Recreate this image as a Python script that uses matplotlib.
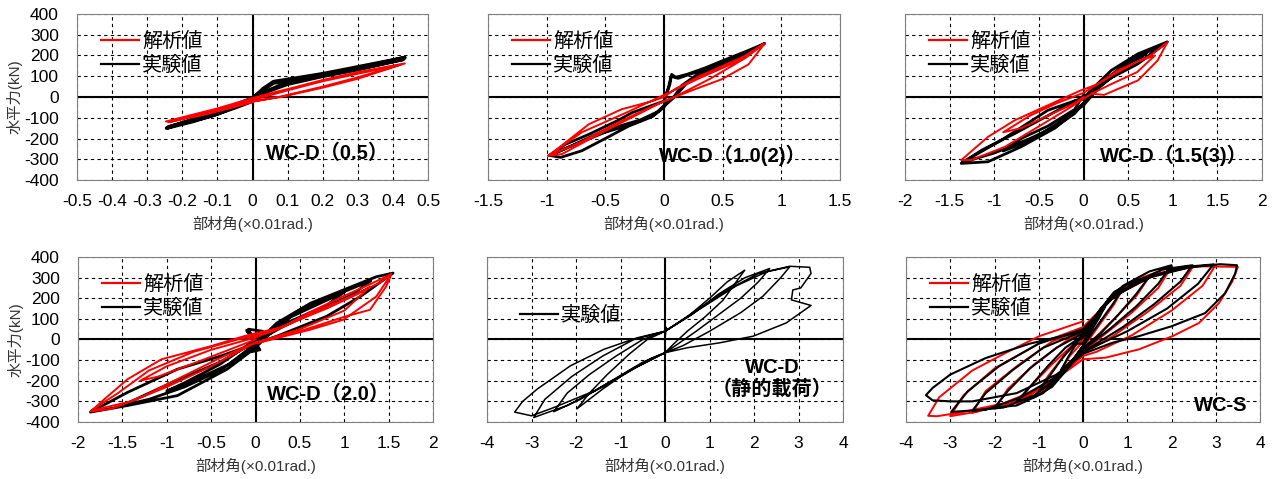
import numpy as np
import matplotlib.pyplot as plt
from matplotlib.ticker import FuncFormatter

plt.rcParams['font.family'] = ['Liberation Sans', 'Noto Sans CJK JP', 'DejaVu Sans']
plt.rcParams['axes.unicode_minus'] = False

# Hysteresis paths: story drift (x0.01 rad) vs. horizontal force (kN)

# WC-D (0.5)
d05_ana_x = [0, 0.08, 0.2, 0.3, 0.434, 0.3, 0.2, 0.1, 0.06, 0, -0.1, -0.247, -0.15, -0.05, 0,
             0.08, 0.2, 0.3, 0.42, 0.3, 0.2, 0.1, 0, -0.1, -0.24, -0.12, 0]
d05_ana_y = [-22, 0, 45, 88, 162, 120, 82, 38, 22, -5, -55, -118, -88, -45, -22,
             2, 50, 95, 155, 112, 76, 32, -15, -62, -122, -78, -25]
d05_exp_x = [0, 0.03, 0.06, 0.12, 0.2, 0.3, 0.434, 0.3, 0.2, 0.1, 0.05, 0, -0.05, -0.1, -0.17,
             -0.245, -0.17, -0.1, -0.05, 0, 0.03, 0.06, 0.12, 0.2, 0.3, 0.43, 0.3, 0.2, 0.1,
             0.04, 0, -0.05, -0.12, -0.24, -0.15, -0.08, -0.02]
d05_exp_y = [-10, 40, 74, 90, 112, 145, 190, 138, 108, 72, 35, -15, -48, -82, -118,
             -150, -108, -70, -38, -5, 35, 68, 82, 104, 136, 182, 132, 100, 62,
             25, -20, -52, -92, -145, -100, -62, -25]

# WC-D (1.0(2))
d10_ana_x = [0.09, 0.3, 0.49, 0.72, 0.858, 0.7, 0.5, 0.3, 0.1, 0, -0.1, -0.36, -0.64, -0.983,
             -0.87, -0.5, -0.22, 0, 0.09, 0.4, 0.7, 0.85, 0.6, 0.3, 0, -0.3, -0.7, -0.98,
             -0.7, -0.4, -0.1, 0.09]
d10_ana_y = [0, 45, 85, 157, 258, 200, 150, 100, 40, 0, -20, -59, -131, -283,
             -275, -163, -83, -20, 0, 90, 190, 255, 165, 90, 10, -70, -170, -282,
             -215, -125, -45, 0]
d10_exp_x = [0, 0.05, 0.065, 0.1, 0.2, 0.35, 0.5, 0.7, 0.858, 0.7, 0.5, 0.3, 0.15, 0.09, 0.02,
             -0.08, -0.27, -0.5, -0.7, -0.983, -0.84, -0.64, -0.4, -0.27, -0.1, 0,
             0.04, 0.06, 0.12, 0.25, 0.5, 0.7, 0.85, 0.6, 0.4, 0.2, 0.09, -0.05, -0.2, -0.5,
             -0.75, -0.97, -0.88, -0.7, -0.5, -0.3, -0.1, 0, 0.03]
d10_exp_y = [-20, 60, 109, 95, 110, 140, 175, 220, 258, 205, 165, 115, 55, 5, -30,
             -85, -130, -170, -215, -283, -228, -180, -115, -75, -40, -20,
             50, 100, 90, 115, 160, 205, 255, 175, 130, 70, 0, -70, -110, -160,
             -225, -282, -291, -259, -200, -140, -95, -50, -20]

# WC-D (1.5(3))
d15_ana_x = [0.09, 0.23, 0.61, 0.83, 0.94, 0.75, 0.55, 0.38, 0.15, -0.03, -0.4, -0.77, -1.07,
             -1.37, -1.26, -0.88, -0.51, -0.14, 0.09, 0.3, 0.6, 0.8, 0.6, 0.3, 0, -0.3, -0.6,
             -0.9, -0.7, -0.4, -0.1, 0]
d15_ana_y = [16, 10, 80, 176, 264, 200, 160, 128, 60, 32, -40, -112, -192,
             -304, -304, -240, -144, -48, 16, 60, 120, 200, 170, 100, 20, -30, -90,
             -170, -150, -90, -30, 0]
d15_exp_x = [0, 0.1, 0.31, 0.61, 0.94, 0.61, 0.3, 0.1, 0, -0.1, -0.32, -0.7, -1.07, -1.37,
             -1.14, -0.92, -0.77, -0.4, -0.1, 0, 0.2, 0.5, 0.93, 0.7, 0.4, 0.1, -0.03, -0.4,
             -0.92, -1.36, -1.0, -0.6, -0.3, -0.1, 0, 0.3, 0.6, 0.7, 0.5, 0.2, 0, -0.3, -0.6,
             -0.9, -0.7, -0.4, -0.1, 0]
d15_exp_y = [-10, 40, 128, 208, 266, 160, 90, 20, -30, -70, -150, -240, -312, -320,
             -256, -208, -176, -90, -20, -10, 70, 170, 262, 190, 120, 30, -8, -64,
             -208, -316, -270, -200, -140, -80, -30, 100, 180, 210, 150, 60, -40, -130, -210,
             -260, -200, -140, -60, 10]

# WC-D (2.0)
d20_ana_x = [0, 0.62, 0.99, 1.36, 1.53, 1.3, 0.99, 0.6, 0.3, 0, -0.13, -0.5, -1.06, -1.44, -1.7,
             -1.855, -1.62, -1.25, -0.88, -0.43, -0.06, 0, 0.5, 1.0, 1.29, 1.47, 1.53, 1.4,
             1.1, 0.7, 0.2, -0.2, -0.7, -1.2, -1.55, -1.855, -1.4, -1.0, -0.5, 0, 0.5, 1.0,
             1.29, 1.15, 0.8, 0.4, 0, -0.5, -1.0, -1.3, -1.1, -0.6, 0]
d20_ana_y = [-20, 48, 96, 208, 317, 270, 210, 130, 60, 30, 16, -32, -96, -192, -288,
             -349, -336, -272, -192, -96, -24, -15, 40, 110, 144, 256, 315, 275,
             215, 140, 40, 0, -60, -150, -260, -345, -300, -230, -130, -15, 50, 140,
             256, 220, 150, 80, 10, -50, -130, -200, -180, -100, 0]
d20_exp_x = [0, 0.24, 0.62, 0.99, 1.36, 1.55, 1.18, 0.8, 0.24, 0, -0.39, -0.88, -1.44, -1.86,
             -1.44, -0.88, -0.32, 0, 0.3, 0.7, 1.1, 1.3, 1.1, 0.7, 0.3, 0, -0.4, -0.9, -1.3,
             -1.5, -1.2, -0.8, -0.4, 0, 0.4, 0.8, 1.0, 0.8, 0.4, 0, -0.4, -0.8, -1.0, -0.7,
             -0.3, 0, -0.1, 0.05, -0.05, 0.08, -0.08, 0.03]
d20_exp_y = [-20, 80, 176, 240, 304, 322, 208, 112, 16, -20, -80, -144, -256, -352,
             -320, -272, -144, -40, 90, 180, 250, 285, 220, 140, 60, -10, -110, -200, -280,
             -320, -290, -230, -150, -30, 110, 190, 230, 165, 90, 0, -120, -210, -250, -200,
             -120, -20, 45, -50, -60, 40, 50, -40]

# WC-D (static loading) - test only
dst_exp_x = [0, 0.02, 0, 0.5, 1.0, 1.4, 1.79, 1.6, 1.3, 0.9, 0.5, 0.2, 0, -0.3, -0.8, -1.4,
             -1.98, -1.7, -1.3, -0.8, -0.4, 0, 0.6, 1.2, 1.8, 2.35, 2.1, 1.7, 1.2, 0.7, 0.3,
             0, -0.5, -1.2, -1.9, -2.5, -2.2, -1.7, -1.1, -0.5, 0, 0.7, 1.4, 2.1, 2.8, 2.6,
             2.2, 1.7, 1.0, 0.4, 0, -0.6, -1.4, -2.2, -2.95, -2.7, -2.1, -1.4, -0.7, 0, 0.8,
             1.6, 2.3, 2.8, 3.25, 3.28, 3.05, 2.87, 2.84, 3.28, 2.72, 1.98, 1.23, 0.5, 0,
             -0.7, -1.6, -2.5, -3.0, -3.38, -3.2, -2.87, -2.13, -1.38, -0.63, 0]
dst_exp_y = [0, 60, 40, 110, 200, 280, 336, 280, 190, 110, 40, -20, -64, -90, -150, -240,
             -336, -260, -170, -70, 0, 40, 120, 220, 300, 344, 280, 200, 120, 40, -20,
             -64, -110, -200, -290, -350, -260, -170, -80, 0, 40, 140, 240, 320, 352, 300,
             210, 130, 40, -30, -64, -130, -230, -320, -378, -290, -180, -80, 0, 40, 150,
             260, 330, 355, 350, 320, 250, 240, 192, 165, 80, 16, -16, -40, -64,
             -140, -250, -330, -370, -352, -300, -240, -128, -48, 8, 40]

# WC-S
s_ana_x = [0, 0.2, 0.5, 0.3, 0, -0.2, -0.5, -0.3, 0,
           0.3, 0.6, 0.9, 0.7, 0.4, 0, -0.3, -0.7, -1.0, -0.8, -0.4, 0,
           0.4, 0.9, 1.5, 1.2, 0.7, 0, -0.4, -0.9, -1.5, -1.2, -0.7, 0,
           0.5, 1.2, 2.0, 1.7, 1.1, 0.4, 0, -0.5, -1.2, -2.0, -1.7, -1.1, -0.4, 0,
           0.6, 1.4, 2.5, 2.2, 1.5, 0.7, 0, -0.6, -1.4, -2.5, -2.2, -1.5, -0.7, 0,
           0.7, 1.6, 2.4, 3.0, 2.7, 2.0, 1.1, 0.3, 0, -0.7, -1.5, -2.4, -3.0, -2.7, -2.0, -1.0, 0,
           0.8, 1.7, 2.6, 3.5, 3.37, 3.07, 2.62, 2.02, 1.26, 0.51, 0, -0.8, -1.8, -2.8, -3.3,
           -3.5, -3.25, -2.5, -1.74, -0.99, 0]
s_ana_y = [-10, 80, 170, 90, -30, -100, -150, -80, -10,
           110, 200, 245, 170, 80, -40, -130, -220, -255, -180, -70, 0,
           140, 250, 305, 210, 100, -50, -150, -250, -315, -230, -120, 20,
           170, 290, 352, 250, 130, 10, -60, -170, -270, -335, -240, -120, -10, 40,
           190, 300, 358, 260, 140, 20, -70, -190, -290, -355, -250, -130, -10, 50,
           210, 310, 350, 362, 260, 140, 20, -60, -80, -200, -300, -350, -372, -270, -140, -20, 60,
           230, 320, 355, 352, 280, 176, 80, 16, -48, -88, -96, -220, -310, -355, -372,
           -370, -280, -150, -64, 16, 88]
s_exp_x = [0, 0.2, 0.4, 0.5, 0.35, 0.15, 0, -0.2, -0.4, -0.5, -0.35, -0.15, 0,
           0.3, 0.6, 0.92, 0.7, 0.4, 0.1, 0, -0.3, -0.6, -1.0, -0.8, -0.5, -0.2, 0,
           0.3, 0.7, 1.1, 1.49, 1.2, 0.8, 0.4, 0, -0.3, -0.7, -1.1, -1.5, -1.2, -0.8, -0.4, 0,
           0.4, 0.9, 1.5, 2.0, 1.7, 1.2, 0.6, 0, -0.4, -0.9, -1.5, -2.0, -1.7, -1.2, -0.6, 0,
           0.5, 1.1, 1.8, 2.47, 2.2, 1.6, 0.9, 0, -0.5, -1.1, -1.8, -2.5, -2.2, -1.6, -0.9, 0,
           0.6, 1.3, 2.2, 2.95, 2.6, 1.9, 1.0, 0, -0.6, -1.4, -2.2, -2.98, -2.6, -1.9, -1.0, 0,
           0.7, 1.5, 2.4, 3.1, 3.48, 3.44, 3.21, 2.76, 2.0, 1.26, 0.66, 0, -0.6, -1.5, -2.5,
           -3.0, -3.4, -3.55, -3.4, -3.0, -2.2, -1.2, 0]
s_exp_y = [-20, 70, 130, 160, 100, 30, -30, -90, -130, -150, -90, -20, -20,
           110, 200, 256, 180, 90, 0, -30, -120, -200, -250, -190, -100, -20, 10,
           120, 230, 280, 303, 220, 120, 30, -40, -130, -230, -280, -300, -230, -130, -40, 20,
           150, 260, 330, 360, 270, 160, 50, -50, -150, -260, -320, -330, -250, -140, -40, 30,
           170, 270, 340, 360, 280, 170, 60, -60, -170, -270, -330, -345, -260, -150, -40, 40,
           190, 290, 350, 364, 270, 150, 40, -60, -180, -280, -340, -351, -250, -130, -20, 50,
           210, 300, 350, 365, 360, 320, 224, 128, 64, 16, -16, -70, -170, -260, -300,
           -300, -295, -270, -235, -170, -90, -20, 40]

panels = [
    dict(title='WC-D（0.5）', lim=0.5, ticks=np.arange(-0.5, 0.51, 0.1), ana=(d05_ana_x, d05_ana_y),
         exp=(d05_exp_x, d05_exp_y), exp_lw=2.6, exp_top=False, ylab=True,
         tpos=(0.89, 0.16), ha='right'),
    dict(title='WC-D（1.0(2)）', lim=1.5, ticks=np.arange(-1.5, 1.51, 0.5), ana=(d10_ana_x, d10_ana_y),
         exp=(d10_exp_x, d10_exp_y), exp_lw=2.0, exp_top=False, ylab=False,
         tpos=(0.905, 0.15), ha='right'),
    dict(title='WC-D（1.5(3)）', lim=2, ticks=np.arange(-2, 2.01, 0.5), ana=(d15_ana_x, d15_ana_y),
         exp=(d15_exp_x, d15_exp_y), exp_lw=2.0, exp_top=False, ylab=False,
         tpos=(0.96, 0.15), ha='right'),
    dict(title='WC-D（2.0）', lim=2, ticks=np.arange(-2, 2.01, 0.5), ana=(d20_ana_x, d20_ana_y),
         exp=(d20_exp_x, d20_exp_y), exp_lw=2.0, exp_top=False, ylab=True,
         tpos=(0.88, 0.17), ha='right'),
    dict(title='WC-D\n（静的載荷）', lim=4, ticks=np.arange(-4, 4.01, 1), ana=None,
         exp=(dst_exp_x, dst_exp_y), exp_lw=1.1, exp_top=True, ylab=False,
         tpos=(0.80, 0.265), ha='center'),
    dict(title='WC-S', lim=4, ticks=np.arange(-4, 4.01, 1), ana=(s_ana_x, s_ana_y),
         exp=(s_exp_x, s_exp_y), exp_lw=1.5, exp_top=True, ylab=False,
         tpos=(0.965, 0.10), ha='right'),
]

rects = [
    [0.0603, 0.6242, 0.2749, 0.3466],
    [0.3821, 0.6242, 0.2757, 0.3466],
    [0.7087, 0.6242, 0.2796, 0.3466],
    [0.0611, 0.1190, 0.2780, 0.3445],
    [0.3814, 0.1190, 0.2788, 0.3445],
    [0.7095, 0.1190, 0.2772, 0.3445],
]

fig = plt.figure(figsize=(12.77, 4.79), dpi=100)
fmt = FuncFormatter(lambda v, p: '0' if abs(v) < 1e-9 else '%g' % round(v, 2))

for p, r in zip(panels, rects):
    ax = fig.add_axes(r)
    ax.set_xlim(-p['lim'], p['lim'])
    ax.set_ylim(-400, 400)
    ax.set_xticks(p['ticks'])
    ax.set_yticks(np.arange(-400, 401, 100))
    ax.xaxis.set_major_formatter(fmt)
    ax.grid(True, color='black', linestyle=(0, (3, 3)), linewidth=0.8)
    ax.axhline(0, color='black', lw=1.5, zorder=1)
    ax.axvline(0, color='black', lw=1.5, zorder=1)
    for s in ax.spines.values():
        s.set_color('#7f7f7f')
        s.set_linewidth(0.8)
    ax.tick_params(length=0, labelsize=12.5, pad=10)
    ax.tick_params(axis='y', pad=13)
    if p['ylab']:
        ax.set_ylabel('水平力(kN)', fontsize=11, color='#333333', labelpad=1)
    else:
        ax.set_yticklabels([])
    ax.set_xlabel('部材角(×0.01rad.)', fontsize=11, color='#333333', labelpad=5)

    ex, ey = p['exp']
    exp_z = 4 if p['exp_top'] else 2
    if p['ana'] is not None:
        axx, axy = p['ana']
        ax.plot(axx, axy, color='#ff0000', lw=1.4, label='解析値', zorder=3)
        ax.plot(ex, ey, color='black', lw=p['exp_lw'], label='実験値', zorder=exp_z)
        leg = ax.legend(loc='upper left', bbox_to_anchor=(0.045, 0.94), frameon=False,
                        fontsize=14.5, handlelength=1.9, handletextpad=0.15, labelspacing=0.25,
                        borderaxespad=0)
    else:
        ax.plot(ex, ey, color='black', lw=p['exp_lw'], label='実験値', zorder=exp_z)
        leg = ax.legend(loc='upper left', bbox_to_anchor=(0.07, 0.75), frameon=False,
                        fontsize=14.5, handlelength=1.9, handletextpad=0.15, borderaxespad=0)
    for h in leg.legend_handles:
        h.set_linewidth(1.6)

    ax.text(p['tpos'][0], p['tpos'][1], p['title'], transform=ax.transAxes, ha=p['ha'],
            va='center', fontsize=14.5, fontweight='bold', linespacing=1.2,
            family=['Liberation Sans', 'Noto Sans CJK JP'], zorder=5)

fig.savefig('out.png', dpi=100)
